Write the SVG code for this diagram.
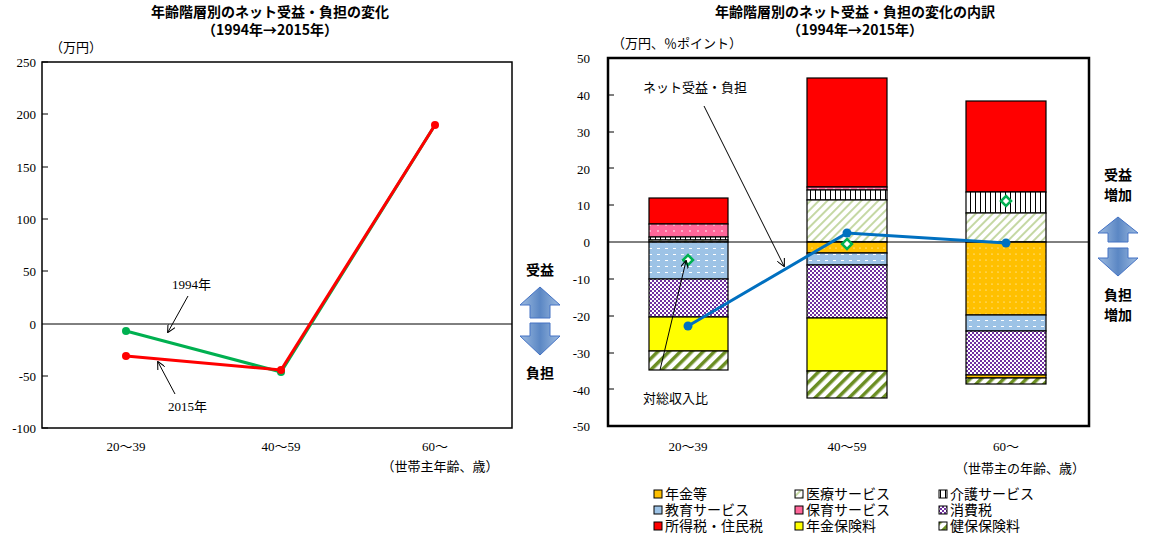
<svg xmlns="http://www.w3.org/2000/svg" width="1159" height="542" viewBox="0 0 1159 542">
<style>
text{font-family:"Liberation Serif","Noto Sans CJK JP",serif;font-size:13px;fill:#000}
.t{font-weight:bold;font-size:14px;font-family:"Noto Sans CJK JP",sans-serif}
.ax{stroke:#000;stroke-width:2;fill:none}
.b{stroke:#000;stroke-width:1.2}
.tk{stroke:#000;stroke-width:1}
</style>
<defs>
<pattern id="pOr" width="6" height="6" patternUnits="userSpaceOnUse"><rect width="6" height="6" fill="#ffc000"/><circle cx="2" cy="2" r="0.6" fill="#fff"/></pattern>
<pattern id="pBl" width="8" height="6" patternUnits="userSpaceOnUse"><rect width="8" height="6" fill="#9dc3e6"/><rect x="1" y="2" width="3" height="1" fill="#fff"/></pattern>
<pattern id="pPk" width="8" height="6" patternUnits="userSpaceOnUse"><rect width="8" height="6" fill="#ff6699"/><circle cx="2" cy="3" r="0.8" fill="#fff"/></pattern>
<pattern id="pPu" width="4" height="4" patternUnits="userSpaceOnUse"><rect width="4" height="4" fill="#fff"/><rect width="2" height="2" fill="#7030a0"/><rect x="2" y="2" width="2" height="2" fill="#7030a0"/></pattern>
<pattern id="pGh" width="6" height="6" patternUnits="userSpaceOnUse" patternTransform="rotate(45)"><rect width="6" height="6" fill="#fff"/><rect width="2" height="6" fill="#c5d8a4"/></pattern>
<pattern id="pDh" width="8" height="8" patternUnits="userSpaceOnUse" patternTransform="rotate(45)"><rect width="8" height="8" fill="#fff"/><rect width="3.5" height="8" fill="#6b8e23"/></pattern>
<pattern id="pVs" width="5" height="5" patternUnits="userSpaceOnUse"><rect width="5" height="5" fill="#fff"/><rect width="1" height="5" fill="#000"/></pattern>
<linearGradient id="ga" x1="0" y1="0" x2="1" y2="0"><stop offset="0" stop-color="#9dbbe0"/><stop offset="0.5" stop-color="#5b87c4"/><stop offset="1" stop-color="#9dbbe0"/></linearGradient>
<marker id="ah" viewBox="0 0 10 10" refX="9" refY="5" markerWidth="8" markerHeight="8" orient="auto"><path d="M0,0 L10,5 L0,10" fill="none" stroke="#000" stroke-width="1.3"/></marker>
</defs>

<g id="left-chart">
<text class="t" x="270" y="17" text-anchor="middle">年齢階層別のネット受益・負担の変化</text>
<text class="t" x="270" y="35" text-anchor="middle">（1994年→2015年）</text>
<text x="50" y="52">（万円）</text>
<rect x="42" y="62" width="470" height="366" fill="#fff" stroke="#000" stroke-width="1.5"/>
<line x1="42" y1="324" x2="512" y2="324" stroke="#000"/>
<g text-anchor="end">
<text x="36" y="67">250</text><text x="36" y="119">200</text><text x="36" y="172">150</text><text x="36" y="224">100</text><text x="36" y="276">50</text><text x="36" y="329">0</text><text x="36" y="381">-50</text><text x="36" y="433">-100</text>
</g>
<path class="tk" d="M42,62h6M42,114h6M42,167h6M42,219h6M42,271h6M42,376h6M42,428h6"/>
<text x="126" y="451" text-anchor="middle">20～39</text>
<text x="281" y="451" text-anchor="middle">40～59</text>
<text x="435" y="451" text-anchor="middle">60～</text>
<text x="440" y="471" text-anchor="middle">（世帯主年齢、歳）</text>
<g id="s1994"><polyline points="126,331 281,372 435,125" fill="none" stroke="#00b050" stroke-width="3"/><circle cx="126" cy="331" r="4" fill="#00b050"/><circle cx="281" cy="372" r="4" fill="#00b050"/></g>
<g id="s2015"><polyline points="126,356 281,370 435,125" fill="none" stroke="#ff0000" stroke-width="3"/><circle cx="126" cy="356" r="4" fill="#ff0000"/><circle cx="281" cy="370" r="4" fill="#ff0000"/><circle cx="435" cy="125" r="4" fill="#ff0000"/></g>
<text x="172" y="289">1994年</text>
<line x1="188" y1="296" x2="168" y2="332" stroke="#000" marker-end="url(#ah)"/>
<text x="168" y="411">2015年</text>
<line x1="175" y1="394" x2="158" y2="362" stroke="#000" marker-end="url(#ah)"/>
</g>

<g id="mid-arrows">
<text class="t" x="540" y="275" text-anchor="middle">受益</text>
<path d="M540,287 L560,305 L550,305 L550,318 L530,318 L530,305 L520,305 Z" fill="url(#ga)" stroke="#4472c4"/>
<path d="M530,323 L550,323 L550,336 L560,336 L540,355 L520,336 L530,336 Z" fill="url(#ga)" stroke="#4472c4"/>
<text class="t" x="540" y="378" text-anchor="middle">負担</text>
</g>

<g id="right-chart">
<text class="t" x="855" y="17" text-anchor="middle">年齢階層別のネット受益・負担の変化の内訳</text>
<text class="t" x="855" y="35" text-anchor="middle">（1994年→2015年）</text>
<text x="612" y="48">（万円、％ポイント）</text>
<rect x="608" y="58" width="481" height="368" fill="#fff" stroke="#000" stroke-width="2.5"/>
<g text-anchor="end">
<text x="590" y="63">50</text><text x="590" y="100">40</text><text x="590" y="137">30</text><text x="590" y="174">20</text><text x="590" y="210">10</text><text x="590" y="247">0</text><text x="590" y="284">-10</text><text x="590" y="321">-20</text><text x="590" y="358">-30</text><text x="590" y="395">-40</text><text x="590" y="431">-50</text>
</g>
<path class="tk" d="M608,95h6M608,132h6M608,168h6M608,205h6M608,279h6M608,316h6M608,353h6M608,389h6"/>

<g id="bar1">
<rect class="b" x="649" y="198" width="79" height="26" fill="#ff0000"/>
<rect class="b" x="649" y="224" width="79" height="13" fill="url(#pPk)"/>
<rect class="b" x="649" y="237" width="79" height="3" fill="url(#pVs)"/>
<rect class="b" x="649" y="240" width="79" height="2" fill="url(#pGh)"/>
<rect class="b" x="649" y="242" width="79" height="37" fill="url(#pBl)"/>
<rect class="b" x="649" y="279" width="79" height="38" fill="url(#pPu)"/>
<rect class="b" x="649" y="317" width="79" height="34" fill="#ffff00"/>
<rect class="b" x="649" y="351" width="79" height="19" fill="url(#pDh)"/>
</g>
<g id="bar2">
<rect class="b" x="807" y="78" width="80" height="109" fill="#ff0000"/>
<rect class="b" x="807" y="187" width="80" height="3" fill="url(#pPk)"/>
<rect class="b" x="807" y="190" width="80" height="10" fill="url(#pVs)"/>
<rect class="b" x="807" y="200" width="80" height="42" fill="url(#pGh)"/>
<rect class="b" x="807" y="242" width="80" height="11" fill="url(#pOr)"/>
<rect class="b" x="807" y="253" width="80" height="12" fill="url(#pBl)"/>
<rect class="b" x="807" y="265" width="80" height="53" fill="url(#pPu)"/>
<rect class="b" x="807" y="318" width="80" height="53" fill="#ffff00"/>
<rect class="b" x="807" y="371" width="80" height="27" fill="url(#pDh)"/>
</g>
<g id="bar3">
<rect class="b" x="966" y="101" width="80" height="91" fill="#ff0000"/>
<rect class="b" x="966" y="192" width="80" height="21" fill="url(#pVs)"/>
<rect class="b" x="966" y="213" width="80" height="29" fill="url(#pGh)"/>
<rect class="b" x="966" y="242" width="80" height="73" fill="url(#pOr)"/>
<rect class="b" x="966" y="315" width="80" height="16" fill="url(#pBl)"/>
<rect class="b" x="966" y="331" width="80" height="44" fill="url(#pPu)"/>
<rect class="b" x="966" y="375" width="80" height="3" fill="url(#pOr)"/>
<rect class="b" x="966" y="378" width="80" height="6" fill="url(#pDh)"/>
</g>
<line x1="608" y1="242" x2="1089" y2="242" stroke="#000"/>
<g id="net-line"><polyline points="688,326 847,233 1006,243" fill="none" stroke="#0070c0" stroke-width="3"/><circle cx="688" cy="326" r="4.5" fill="#0070c0"/><circle cx="847" cy="233" r="4.5" fill="#0070c0"/><circle cx="1006" cy="243" r="4.5" fill="#0070c0"/></g>
<g id="ratio" fill="#fff" stroke="#00b050" stroke-width="2.5"><path d="M688,255l5,5l-5,5l-5,-5z"/><path d="M847,239l5,5l-5,5l-5,-5z"/><path d="M1006,196l5,5l-5,5l-5,-5z"/></g>
<g id="connectors">
<line x1="704" y1="106" x2="784" y2="266" stroke="#000" marker-end="url(#ah)"/>
<line x1="660" y1="370" x2="686" y2="261" stroke="#000" marker-end="url(#ah)"/>
</g>
<text x="643" y="92" font-family="Noto Sans CJK JP,sans-serif">ネット受益・負担</text>
<text x="643" y="403" font-family="Noto Sans CJK JP,sans-serif">対総収入比</text>
<text x="688" y="451" text-anchor="middle">20～39</text>
<text x="847" y="451" text-anchor="middle">40～59</text>
<text x="1006" y="451" text-anchor="middle">60～</text>
<text x="1020" y="473" text-anchor="middle">（世帯主の年齢、歳）</text>
</g>

<g id="right-arrows">
<text class="t" x="1118" y="180" text-anchor="middle">受益</text>
<text class="t" x="1118" y="200" text-anchor="middle">増加</text>
<path d="M1118,217 L1138,233 L1128,233 L1128,242 L1108,242 L1108,233 L1098,233 Z" fill="url(#ga)" stroke="#4472c4"/>
<path d="M1108,248 L1128,248 L1128,258 L1138,258 L1118,276 L1098,258 L1108,258 Z" fill="url(#ga)" stroke="#4472c4"/>
<text class="t" x="1118" y="300" text-anchor="middle">負担</text>
<text class="t" x="1118" y="320" text-anchor="middle">増加</text>
</g>

<g id="legend" font-size="14">
<rect x="654" y="490" width="8" height="8" fill="#ffc000" stroke="#000"/><text x="665" y="499" style="font-size:14px">年金等</text>
<rect x="795" y="490" width="8" height="8" fill="url(#pGh)" stroke="#000"/><text x="806" y="499" style="font-size:14px">医療サービス</text>
<rect x="939" y="490" width="8" height="8" fill="url(#pVs)" stroke="#000"/><text x="950" y="499" style="font-size:14px">介護サービス</text>
<rect x="654" y="506" width="8" height="8" fill="#9dc3e6" stroke="#000"/><text x="665" y="515" style="font-size:14px">教育サービス</text>
<rect x="795" y="506" width="8" height="8" fill="#ff6699" stroke="#000"/><text x="806" y="515" style="font-size:14px">保育サービス</text>
<rect x="939" y="506" width="8" height="8" fill="url(#pPu)" stroke="#000"/><text x="950" y="515" style="font-size:14px">消費税</text>
<rect x="654" y="522" width="8" height="8" fill="#ff0000" stroke="#000"/><text x="665" y="531" style="font-size:14px">所得税・住民税</text>
<rect x="795" y="522" width="8" height="8" fill="#ffff00" stroke="#000"/><text x="806" y="531" style="font-size:14px">年金保険料</text>
<rect x="939" y="522" width="8" height="8" fill="url(#pDh)" stroke="#000"/><text x="950" y="531" style="font-size:14px">健保保険料</text>
</g>
</svg>
